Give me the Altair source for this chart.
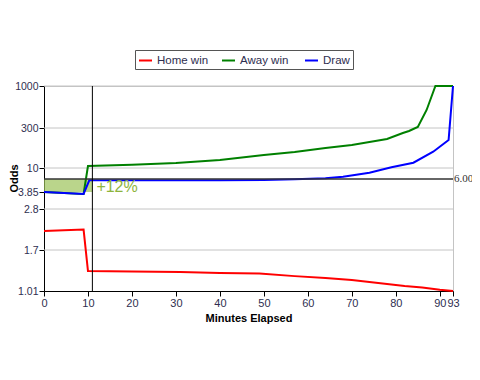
import altair as alt
import pandas as pd

# ---- data ----
series = ["Home win", "Away win", "Draw"]
colors = ["#ff0000", "#008000", "#0000ff"]

home_min = [0, 9, 10, 20, 31, 40, 49, 57, 64, 70, 76, 82, 86, 90, 93]
home_odds = [2.14, 2.18, 1.30, 1.295, 1.285, 1.27, 1.26, 1.22, 1.19, 1.16, 1.118, 1.076, 1.056, 1.026, 1.01]

away_min = [0, 9, 10, 20, 30, 40, 50, 57, 64, 70, 74, 78, 81.6, 83, 85, 87, 89, 93]
away_odds = [3.85, 3.71, 11.8, 13.2, 15.3, 19.7, 30, 39, 55, 71, 91, 118, 196, 232, 309, 503, 1000, 1000]

draw_min = [0, 9, 10.3, 20, 40, 50, 57, 64, 68, 74, 79, 84, 88.5, 92, 93]
draw_odds = [3.85, 3.71, 5.75, 5.75, 5.75, 5.8, 5.95, 6.2, 6.68, 8.04, 10.6, 15.7, 40, 108, 1000]

y_ticks = [1.01, 1.7, 2.8, 3.85, 10, 300, 1000]
grid_vals = [1000, 300, 10, 2.8, 1.7]
x_ticks = [0, 10, 20, 30, 40, 50, 60, 70, 80, 90, 93]
scale_breaks = [1.01, 1.7, 2.8, 3.85, 6, 10, 300, 1000]
scale_px = [205, 164, 123, 106, 93, 82, 42, 0]

ref_odds = 6.0
ref_label = "6.00"
marker_min = 11
band_low = 3.85
change_label = "+12%"

# ---- tables ----
rows = []
for name, mins, odds in [(series[0], home_min, home_odds),
                         (series[1], away_min, away_odds),
                         (series[2], draw_min, draw_odds)]:
    for m, o in zip(mins, odds):
        rows.append({"series": name, "minute": m, "odds": o})
lines_df = pd.DataFrame(rows)
grid_df = pd.DataFrame({"odds": grid_vals})
band_df = pd.DataFrame({"minute": [0], "minute2": [marker_min], "odds": [band_low], "odds2": [ref_odds]})
ref_df = pd.DataFrame({"odds": [ref_odds], "minute": [max(x_ticks)], "label": [ref_label]})
mark_df = pd.DataFrame({"minute": [marker_min], "odds": [band_low], "label": [change_label]})

label_color = "#2e2e4f"

xscale = alt.Scale(domain=[0, 93], nice=False)
yscale = alt.Scale(type="log", domain=scale_breaks, range=scale_px, nice=False)
xaxis = alt.Axis(values=x_ticks, title="Minutes Elapsed", grid=False, format="d",
                 labelFlush=False, labelOverlap=False, tickColor="black", domainColor="black",
                 tickSize=5, labelPadding=1, titlePadding=4)
yaxis = alt.Axis(values=y_ticks, title="Odds", grid=False, labelExpr="'' + datum.value",
                 labelFlush=False, labelOverlap=False, tickColor="black", domainColor="black",
                 tickSize=5, labelPadding=1, labelFontSize=10.5, titleX=-25, titleY=92)


def X(field="minute"):
    return alt.X(f"{field}:Q", scale=xscale, axis=xaxis)


def Y(field="odds"):
    return alt.Y(f"{field}:Q", scale=yscale, axis=yaxis)


band = alt.Chart(band_df).mark_rect(color="#9dc35a", opacity=0.7).encode(
    x=X(), x2="minute2:Q", y=Y(), y2="odds2:Q")

grid = alt.Chart(grid_df).mark_rule(color="#c4c4c4", strokeWidth=1).encode(y=Y())

lines = alt.Chart(lines_df).mark_line(strokeWidth=2).encode(
    x=X(), y=Y(),
    color=alt.Color("series:N", scale=alt.Scale(domain=series, range=colors),
                    legend=alt.Legend(orient="none", legendX=91, legendY=-36, direction="horizontal",
                                      title=None, symbolType="stroke", symbolSize=169,
                                      symbolStrokeWidth=2, labelFontSize=11.5, labelColor=label_color,
                                      strokeColor="#555555", padding=3, columnPadding=9,
                                      gridAlign="all", columns=3, labelOffset=4)),
    order=alt.Order("minute:Q"))

ref_rule = alt.Chart(ref_df).mark_rule(color="#333333", strokeWidth=1.5).encode(y=Y())
ref_text = alt.Chart(ref_df).mark_text(align="left", baseline="middle", dx=1, fontSize=11,
                                       font="Liberation Sans Narrow",
                                       color="#333333").encode(x=X(), y=Y(), text="label:N")

vline = alt.Chart(mark_df).mark_rule(color="black", strokeWidth=1).encode(x=X())
change_text = alt.Chart(mark_df).mark_text(align="left", baseline="alphabetic", dx=4, dy=0,
                                           fontSize=16, color="#8db43c").encode(
    x=X(), y=Y(), text="label:N")

chart = alt.layer(grid, band, lines, ref_rule, vline, ref_text, change_text).properties(
    width=409, height=205,
    padding={"left": 36, "top": 78, "right": 19, "bottom": 50},
    autosize=alt.AutoSizeParams(type="none"),
).configure_view(stroke="#c4c4c4").configure_axis(
    labelFont="Liberation Sans", labelFontSize=11, labelColor=label_color,
    titleFont="Liberation Sans", titleFontSize=11, titleFontWeight="bold", titleColor="black"
).configure_legend(labelFont="Liberation Sans")

chart.save("out.html", embed_options={"renderer": "svg", "actions": False})
